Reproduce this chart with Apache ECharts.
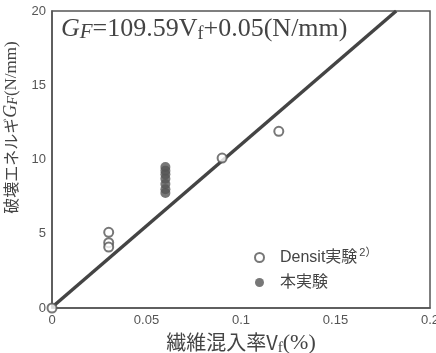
<!DOCTYPE html>
<html><head><meta charset="utf-8">
<script src="https://cdn.jsdelivr.net/npm/echarts@6/dist/echarts.min.js"></script>
<style>html,body{margin:0;padding:0;background:#fff}#c{width:436px;height:353px}</style>
</head><body><div id="c"></div>
<script>
const xTicks = [0, 0.05, 0.1, 0.15, 0.2];
const yTicks = [0, 5, 10, 15, 20];
const densitData = [[0, 0], [0.03, 5.1], [0.03, 4.4], [0.03, 4.1], [0.09, 10.1], [0.12, 11.9]];
const thisData = [[0.06, 9.5], [0.06, 9.25], [0.06, 9.0], [0.06, 8.7], [0.06, 8.35], [0.06, 8.0], [0.06, 7.75]];
const fitLine = [[0, 0.05], [0.1821, 20]];
const seriesNames = ['Densit実験', '本実験'];

const chart = echarts.init(document.getElementById('c'));
const serif = '"Liberation Serif", "DejaVu Serif", serif';
const sans = '"Liberation Sans", Arial, sans-serif';
const cjk = '"Noto Sans CJK JP", sans-serif';
chart.setOption({
  animation: false,
  backgroundColor: '#fff',
  title: {
    left: 56, top: 11,
    text: '{g|G}{gs|F}{t|=109.59V}{s|f}{t|+0.05(N/mm)}',
    textStyle: {
      fontWeight: 'normal',
      rich: {
        g: {fontFamily: serif, fontStyle: 'italic', fontWeight: 'normal', fontSize: 26, color: '#444'},
        gs: {fontFamily: serif, fontStyle: 'italic', fontWeight: 'normal', fontSize: 21, color: '#444', verticalAlign: 'bottom', padding: [6, 0, 0, 0]},
        t: {fontFamily: serif, fontWeight: 'normal', fontSize: 26, color: '#444'},
        s: {fontFamily: serif, fontWeight: 'normal', fontSize: 18, color: '#444', verticalAlign: 'bottom', padding: [9, 0, 0, 0]}
      }
    }
  },
  grid: {left: 52, right: 6, top: 11, bottom: 45, show: false, containLabel: false, outerBoundsMode: 'none'},
  legend: {
    orient: 'vertical', left: 249, top: 242, itemGap: 9, itemWidth: 9, itemHeight: 9,
    data: [
      {name: seriesNames[0], itemStyle: {borderWidth: 1.3}},
      {name: seriesNames[1]}
    ],
    formatter: function (n) { return n === seriesNames[0] ? n + '{sup|2）}' : n; },
    textStyle: {
      fontFamily: '"Liberation Sans", "Noto Sans CJK JP", sans-serif', fontSize: 16, color: '#444',
      padding: [0, 0, 0, 11],
      rich: {sup: {fontSize: 11, color: '#444', verticalAlign: 'top', padding: [0, 0, 10, 2]}}
    }
  },
  xAxis: {
    type: 'value', min: xTicks[0], max: xTicks[xTicks.length - 1], interval: 0.05,
    axisLine: {show: true, onZero: false, lineStyle: {color: '#555', width: 1.5}},
    axisTick: {show: false}, splitLine: {show: false},
    axisLabel: {color: '#555', fontFamily: sans, fontSize: 13, margin: 6,
      formatter: v => String(+v.toFixed(2))},
    name: '繊維混入率V{s|f}{t|(%)}', nameLocation: 'middle', nameGap: 19,
    nameTextStyle: {fontFamily: cjk, fontSize: 20, color: '#444',
      rich: {
        s: {fontFamily: serif, fontSize: 15, color: '#444', verticalAlign: 'bottom', padding: [10, 0, 0, 0]},
        t: {fontFamily: serif, fontSize: 22, color: '#444'}
      }}
  },
  yAxis: {
    type: 'value', min: yTicks[0], max: yTicks[yTicks.length - 1], interval: 5,
    axisLine: {show: true, onZero: false, lineStyle: {color: '#555', width: 1.5}},
    axisTick: {show: false}, splitLine: {show: false},
    axisLabel: {color: '#555', fontFamily: sans, fontSize: 13, margin: 6},
    name: '破壊エネルギ{g|G}{gs|F}{t|(N/mm)}', nameLocation: 'middle', nameGap: 26, nameRotate: 90,
    nameTextStyle: {fontFamily: cjk, fontSize: 16, color: '#444', padding: [0, 0, 0, 64],
      rich: {
        g: {fontFamily: serif, fontStyle: 'italic', fontSize: 18, color: '#444'},
        gs: {fontFamily: serif, fontStyle: 'italic', fontSize: 14, color: '#444', verticalAlign: 'bottom', padding: [5, 0, 0, 0]},
        t: {fontFamily: serif, fontSize: 17, color: '#444'}
      }}
  },
  series: [
    {
      type: 'line', data: fitLine, symbol: 'none', silent: true,
      lineStyle: {color: '#444', width: 3.5}, z: 1
    },
    {
      name: seriesNames[0], type: 'scatter', data: densitData, clip: false,
      symbol: 'emptyCircle', symbolSize: 9,
      itemStyle: {color: '#555', borderColor: '#555', borderWidth: 1.5}, z: 3
    },
    {
      name: seriesNames[1], type: 'scatter', data: thisData, clip: false,
      symbol: 'circle', symbolSize: 10,
      itemStyle: {color: '#555'}, z: 3
    }
  ],
  graphic: [
    {type: 'rect', shape: {x: 52, y: 11, width: 378, height: 297}, style: {fill: 'none', stroke: '#555', lineWidth: 1.5}, silent: true, z: 0}
  ]
});
</script></body></html>
